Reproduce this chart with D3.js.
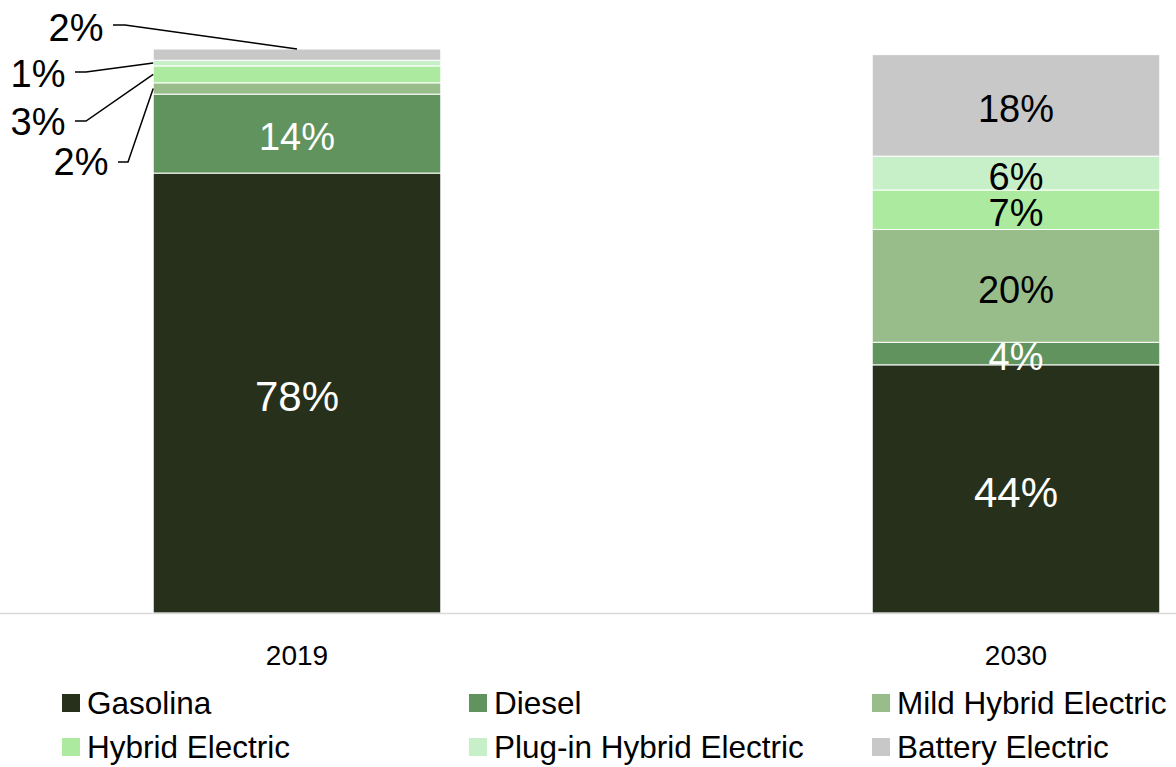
<!DOCTYPE html>
<html>
<head>
<meta charset="utf-8">
<script src="https://cdn.jsdelivr.net/npm/d3@7"></script>
<style>
  html, body { margin: 0; padding: 0; background: #fff; }
  svg { display: block; font-family: "Liberation Sans", Arial, sans-serif; }
</style>
</head>
<body>
<svg id="chart" width="1176" height="767"></svg>
<script>
// Powertrain mix, share of sales (%)
const years = ["2019", "2030"];
const seriesNames = ["Gasolina", "Diesel", "Mild Hybrid Electric", "Hybrid Electric", "Plug-in Hybrid Electric", "Battery Electric"];
const gasolina = [78, 44];
const diesel = [14, 4];
const mildHybrid = [2, 20];
const hybrid = [3, 7];
const plugInHybrid = [1, 6];
const batteryElectric = [2, 18];
const colors = ["#27301a", "#61935e", "#98bd8a", "#aceb9f", "#c8f0c8", "#c8c8c8"];
const labelColors = ["#fff", "#fff", "#000", "#000", "#000", "#000"];
const labelSizes = [42, 38, 38, 38, 38, 38];

const seriesValues = [gasolina, diesel, mildHybrid, hybrid, plugInHybrid, batteryElectric];
const rows = years.map((yr, i) => {
  const r = { year: yr };
  seriesNames.forEach((s, k) => { r[s] = seriesValues[k][i]; });
  return r;
});

const svg = d3.select("#chart");
const W = 1176;

const x = d3.scaleBand().domain(years).range([-62.5, 1375.5]).paddingInner(0.6).paddingOuter(0.3);
const y = d3.scaleLinear().domain([0, 100]).range([613, 49]);

const stacked = d3.stack().keys(seriesNames)(rows);

// stacked segments
const layers = svg.append("g").selectAll("g")
  .data(stacked).join("g")
  .attr("fill", (d, i) => colors[i]);

layers.selectAll("rect")
  .data(d => d.map(p => ({ p, key: d.key })))
  .join("rect")
  .attr("x", d => x(d.p.data.year))
  .attr("width", x.bandwidth())
  .attr("y", d => y(d.p[1]))
  .attr("height", d => y(d.p[0]) - y(d.p[1]))
  .attr("stroke", "#fff")
  .attr("stroke-width", 1);

// baseline
svg.append("line")
  .attr("x1", 0).attr("x2", W)
  .attr("y1", y(0) + 0.5).attr("y2", y(0) + 0.5)
  .attr("stroke", "#d9d9d9").attr("stroke-width", 1.5);

// category axis
const xAxis = svg.append("g")
  .attr("transform", `translate(0,${y(0)})`)
  .call(d3.axisBottom(x).tickSize(0).tickPadding(32));
xAxis.select(".domain").remove();
xAxis.selectAll("text")
  .attr("font-size", 28).attr("fill", "#000")
  .attr("font-family", "Liberation Sans, Arial, sans-serif");

// in-bar labels (large segments)
const fmt = v => v + "%";
const inside = [];
stacked.forEach((layer, k) => {
  layer.forEach(p => {
    const v = p[1] - p[0];
    if (p.data.year === "2030" || v >= 10) {
      inside.push({ year: p.data.year, mid: (p[0] + p[1]) / 2, v, k });
    }
  });
});
svg.append("g").selectAll("text")
  .data(inside).join("text")
  .attr("x", d => x(d.year) + x.bandwidth() / 2)
  .attr("y", d => y(d.mid) + 3)
  .attr("dy", "0.36em")
  .attr("text-anchor", "middle")
  .attr("font-size", d => labelSizes[d.k])
  .attr("fill", d => labelColors[d.k])
  .text(d => fmt(d.v));

// small 2019 segments: labels with leader lines
const y2019 = stacked.map(l => l[0]);
const x0 = x("2019");
const callouts = [
  { k: 5, tx: 76, ty: 41, line: [[113, 25], [125, 25]], end: "top" },
  { k: 4, tx: 38, ty: 87, line: [[75, 72], [86, 72]], end: "left" },
  { k: 3, tx: 38, ty: 135, line: [[75, 121], [86, 121]], end: "left" },
  { k: 2, tx: 81, ty: 175, line: [[118, 162], [128, 162]], end: "left" }
];
const cg = svg.append("g");
callouts.forEach(c => {
  const p = y2019[c.k];
  const endPt = c.end === "top"
    ? [x0 + x.bandwidth() / 2, y(p[1])]
    : [x0, y((p[0] + p[1]) / 2)];
  cg.append("path")
    .attr("d", d3.line()([...c.line, endPt]))
    .attr("fill", "none").attr("stroke", "#000").attr("stroke-width", 1.5);
  cg.append("text")
    .attr("x", c.tx).attr("y", c.ty)
    .attr("text-anchor", "middle")
    .attr("font-size", 38).attr("fill", "#000")
    .text(fmt(p[1] - p[0]));
});

// legend
const legendCols = [62, 469, 872];
const legendRows = [703, 747];
const lg = svg.append("g").selectAll("g")
  .data(seriesNames).join("g")
  .attr("transform", (d, i) => `translate(${legendCols[i % 3]},${legendRows[Math.floor(i / 3)]})`);
lg.append("rect").attr("x", 0).attr("y", -9).attr("width", 18).attr("height", 18)
  .attr("fill", (d, i) => colors[i]);
lg.append("text").attr("x", 25).attr("y", 0).attr("dy", "0.35em")
  .attr("font-size", 31.5).attr("fill", "#000")
  .text(d => d);
</script>
</body>
</html>
